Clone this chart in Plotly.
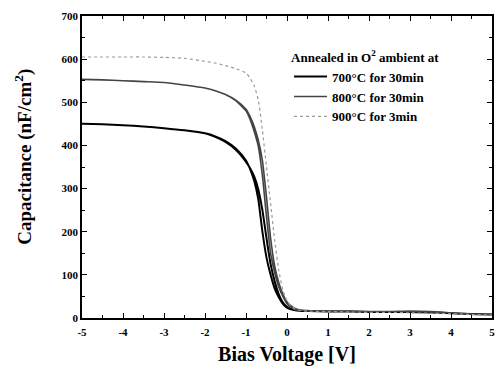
import plotly.graph_objects as go

# Bias voltage grid (V)
V = [-5, -4.5, -4, -3.5, -3, -2.5, -2, -1.75, -1.5, -1.25, -1, -0.9, -0.8, -0.7,
     -0.6, -0.5, -0.4, -0.3, -0.2, -0.1, 0, 0.1, 0.2, 0.3, 0.5, 1, 1.5, 2, 2.5,
     3, 3.5, 4, 4.5, 5]

# 700 C for 30 min (forward / reverse sweeps)
c700_fwd = [450, 449, 447, 444, 440, 435, 428, 421, 410, 393, 365, 345, 318, 275,
            200, 140, 100, 68, 48, 33, 24, 20, 18, 17, 16, 15, 15, 14, 14, 14, 13, 11, 9, 8]
c700_rev = [450, 449, 447, 444, 440, 435, 428, 420, 408, 390, 362, 347, 328, 298,
            250, 185, 125, 85, 55, 36, 26, 21, 19, 17, 16, 15, 15, 14, 14, 14, 13, 11, 9, 8]

# 800 C for 30 min
c800_fwd = [553, 552, 550, 548, 546, 540, 533, 527, 518, 504, 480, 460, 432, 398,
            330, 235, 150, 105, 72, 50, 33, 25, 19, 18, 17, 16, 16, 15, 15, 15, 14, 12, 9, 8]
c800_rev = [553, 552, 550, 548, 546, 540, 533, 527, 518, 505, 484, 467, 444, 412,
            365, 280, 185, 120, 82, 55, 37, 28, 22, 19, 17, 16, 16, 15, 15, 16, 15, 12, 9, 8]

# 900 C for 3 min
c900 = [605, 605, 605, 605, 604, 602, 595, 591, 585, 578, 568, 556, 538, 505,
        435, 350, 265, 180, 110, 65, 40, 28, 21, 18, 16, 15, 14, 13, 13, 12, 11, 10, 8, 7]

labels = ["700°C for 30min", "800°C for 30min", "900°C for 3min"]

x_ticks = [-5, -4, -3, -2, -1, 0, 1, 2, 3, 4, 5]
x_tick_text = ["-5", "-4", "-3", "-2", "-1", "0", "1", "2", "3", "4", "5"]

serif = "Liberation Serif"

fig = go.Figure()

loop_x = V + V[::-1]
fig.add_trace(go.Scatter(x=loop_x, y=c700_fwd + c700_rev[::-1], mode="lines",
                         name=labels[0],
                         line=dict(color="#000000", width=2, shape="spline", smoothing=0.6)))
fig.add_trace(go.Scatter(x=loop_x, y=c800_fwd + c800_rev[::-1], mode="lines",
                         name=labels[1],
                         line=dict(color="#444444", width=1.6, shape="spline", smoothing=0.6)))
fig.add_trace(go.Scatter(x=V, y=c900, mode="lines",
                         name=labels[2],
                         line=dict(color="#9a9a9a", width=1.2, dash="dot",
                                   shape="spline", smoothing=0.6)))

fig.update_layout(
    width=496, height=370,
    margin=dict(l=82, r=2, t=16, b=52),
    paper_bgcolor="white", plot_bgcolor="white",
    font=dict(family=serif, color="black", size=11, weight="bold"),
    showlegend=True,
    legend=dict(
        x=0.505, y=0.905, xanchor="left", yanchor="top",
        bgcolor="rgba(0,0,0,0)", borderwidth=0,
        font=dict(family=serif, size=13, weight="bold"),
        title=dict(text="Annealed in O<sup>2</sup> ambient at",
                   font=dict(family=serif, size=13, weight="bold")),
        itemwidth=33, tracegroupgap=0,
    ),
    annotations=[dict(
        text="Capacitance (nF/cm<sup>2</sup>)", xref="paper", yref="paper",
        x=-0.143, y=0.535, xanchor="center", yanchor="middle", textangle=-90,
        showarrow=False, font=dict(family=serif, size=19, weight="bold"),
    )],
)

fig.update_xaxes(
    range=[-5, 5], tickvals=x_ticks, ticktext=x_tick_text,
    showgrid=False, zeroline=False,
    showline=True, linecolor="black", linewidth=1.5, mirror="ticks",
    ticks="inside", ticklen=5, tickwidth=1.2, tickcolor="black",
    minor=dict(ticks="inside", ticklen=3, dtick=0.5, tick0=-5, tickcolor="black", tickwidth=1),
    tickfont=dict(family=serif, size=11, weight="bold"),
    ticklabelstandoff=3,
    title=dict(text="Bias Voltage [V]", font=dict(family=serif, size=20, weight="bold"),
               standoff=10),
)
fig.update_yaxes(
    range=[0, 700], dtick=100, tick0=0,
    showgrid=False, zeroline=False,
    showline=True, linecolor="black", linewidth=1.5, mirror="ticks",
    ticks="inside", ticklen=5, tickwidth=1.2, tickcolor="black",
    minor=dict(ticks="inside", ticklen=3, dtick=50, tickcolor="black", tickwidth=1),
    tickfont=dict(family=serif, size=11, weight="bold"),
)

fig.write_html("out.html")
